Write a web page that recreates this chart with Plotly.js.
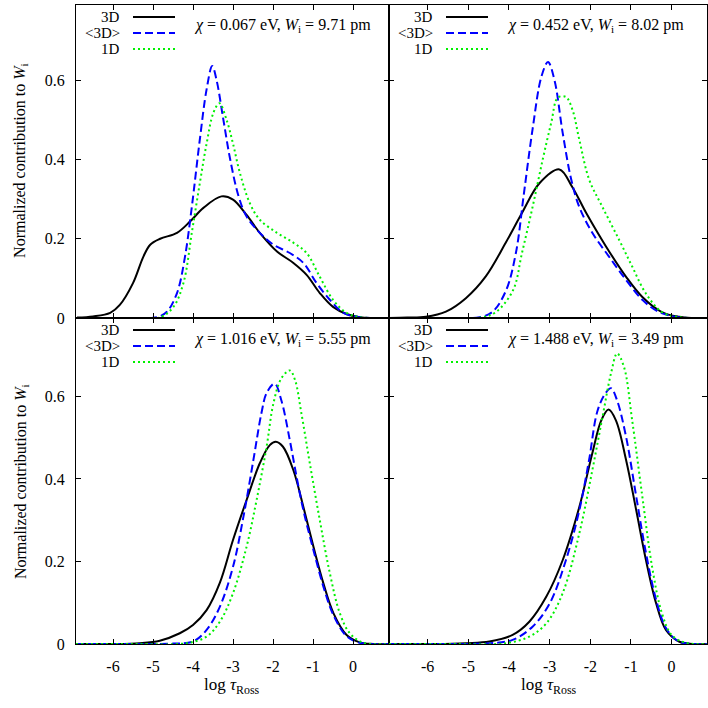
<!DOCTYPE html>
<html>
<head>
<meta charset="utf-8">
<script src="https://cdn.plot.ly/plotly-3.0.1.min.js"></script>
<style>
  html, body { margin: 0; padding: 0; background: #fff; }
  #plot { width: 708px; height: 708px; }
</style>
</head>
<body>
<div id="plot"></div>
<script>
// tick labels (plain hyphen minus, as in the original)
const xTickVals = [-6, -5, -4, -3, -2, -1, 0]
const xTickText = ['-6', '-5', '-4', '-3', '-2', '-1', '0']
const yTickVals = [0, 0.2, 0.4, 0.6]
const yTickText = ['0', '0.2', '0.4', '0.6']

const seriesNames = ['3D', '<3D>', '1D']
const panelLabels = [
  '<i>χ</i> = 0.067 eV, <i>W</i><sub>i</sub> = 9.71 pm',
  '<i>χ</i> = 0.452 eV, <i>W</i><sub>i</sub> = 8.02 pm',
  '<i>χ</i> = 1.016 eV, <i>W</i><sub>i</sub> = 5.55 pm',
  '<i>χ</i> = 1.488 eV, <i>W</i><sub>i</sub> = 3.49 pm'
]

// panel 1 (chi = 0.067 eV)
const p1x3D = [-6.9, -6.5, -6.07, -5.83, -5.5, -5.24, -5.07, -4.82, -4.4, -4.07, -3.74, -3.29, -3.0, -2.66, -2.33, -1.9, -1.49, -1.16, -0.83, -0.5, -0.16, 0.17, 0.5, 0.9]
const p1y3D = [0.001, 0.004, 0.013, 0.033, 0.088, 0.155, 0.185, 0.2, 0.215, 0.244, 0.278, 0.307, 0.299, 0.26, 0.215, 0.168, 0.139, 0.109, 0.063, 0.028, 0.01, 0.002, 0, 0]
const p1xAv = [-6.9, -5.5, -4.9, -4.66, -4.4, -4.2, -4.03, -3.83, -3.66, -3.52, -3.41, -3.24, -3.07, -2.86, -2.66, -2.33, -1.99, -1.58, -1.24, -0.91, -0.58, -0.24, 0.17, 0.9]
const p1yAv = [0, 0, 0.002, 0.015, 0.063, 0.155, 0.28, 0.45, 0.577, 0.636, 0.6, 0.5, 0.4, 0.307, 0.256, 0.215, 0.185, 0.164, 0.139, 0.088, 0.046, 0.013, 0.002, 0]
const p1x1D = [-6.9, -5.5, -4.82, -4.49, -4.24, -4.03, -3.83, -3.66, -3.49, -3.34, -3.16, -3.0, -2.83, -2.58, -2.33, -1.9, -1.49, -1.16, -0.83, -0.5, -0.16, 0.17, 0.9]
const p1y1D = [0, 0, 0.002, 0.028, 0.088, 0.215, 0.34, 0.44, 0.518, 0.542, 0.5, 0.44, 0.367, 0.29, 0.248, 0.215, 0.19, 0.164, 0.104, 0.046, 0.013, 0.002, 0]

// panel 2 (chi = 0.452 eV)
const p2x3D = [-6.95, -6.5, -6.04, -5.55, -5.06, -4.57, -4.08, -3.68, -3.25, -2.76, -2.44, -2.1, -1.61, -1.12, -0.72, -0.24, 0.18, 0.5, 0.88]
const p2y3D = [0, 0.001, 0.003, 0.016, 0.05, 0.105, 0.19, 0.265, 0.34, 0.375, 0.33, 0.265, 0.18, 0.104, 0.053, 0.015, 0.003, 0, 0]
const p2xAv = [-6.95, -5.5, -4.72, -4.4, -4.07, -3.83, -3.63, -3.42, -3.2, -3.04, -2.88, -2.68, -2.47, -2.27, -1.95, -1.54, -1.12, -0.72, -0.31, 0.18, 0.88]
const p2yAv = [0, 0, 0.002, 0.016, 0.07, 0.164, 0.316, 0.476, 0.61, 0.646, 0.6, 0.468, 0.35, 0.28, 0.215, 0.155, 0.096, 0.046, 0.015, 0.002, 0]
const p2x1D = [-6.95, -5.5, -4.65, -4.32, -3.9, -3.68, -3.42, -3.17, -2.96, -2.8, -2.6, -2.44, -2.27, -2.03, -1.7, -1.29, -0.97, -0.64, -0.24, 0.18, 0.88]
const p2y1D = [0, 0, 0.002, 0.015, 0.07, 0.164, 0.28, 0.4, 0.493, 0.556, 0.558, 0.526, 0.45, 0.35, 0.28, 0.197, 0.13, 0.063, 0.015, 0.002, 0]

// panel 3 (chi = 1.016 eV)
const p3x3D = [-6.93, -6.0, -5.33, -4.83, -4.33, -4.0, -3.66, -3.33, -3.0, -2.66, -2.33, -2.08, -1.93, -1.75, -1.49, -1.24, -0.99, -0.74, -0.49, -0.16, 0.17, 0.5, 0.9]
const p3y3D = [0, 0, 0.002, 0.008, 0.026, 0.046, 0.082, 0.148, 0.252, 0.349, 0.438, 0.482, 0.49, 0.478, 0.421, 0.332, 0.236, 0.147, 0.075, 0.022, 0.004, 0, 0]
const p3xAv = [-6.93, -5.5, -4.49, -4.0, -3.66, -3.33, -3.0, -2.74, -2.49, -2.29, -2.16, -1.96, -1.79, -1.58, -1.41, -1.24, -0.99, -0.74, -0.49, -0.16, 0.17, 0.9]
const p3yAv = [0, 0, 0.001, 0.006, 0.034, 0.09, 0.187, 0.308, 0.446, 0.559, 0.608, 0.631, 0.59, 0.494, 0.405, 0.324, 0.228, 0.139, 0.07, 0.019, 0.003, 0]
const p3x1D = [-6.93, -5.5, -4.16, -3.66, -3.33, -3.0, -2.66, -2.41, -2.16, -1.99, -1.79, -1.58, -1.45, -1.29, -1.08, -0.83, -0.58, -0.33, -0.08, 0.26, 0.9]
const p3y1D = [0, 0, 0.002, 0.018, 0.054, 0.123, 0.236, 0.349, 0.478, 0.583, 0.644, 0.663, 0.64, 0.559, 0.438, 0.3, 0.172, 0.075, 0.026, 0.003, 0]

// panel 4 (chi = 1.488 eV)
const p4x3D = [-6.95, -5.8, -5.06, -4.48, -3.91, -3.5, -3.08, -2.68, -2.27, -1.95, -1.73, -1.55, -1.37, -1.12, -0.87, -0.63, -0.38, -0.14, 0.18, 0.5, 0.88]
const p4y3D = [0, 0, 0.002, 0.006, 0.022, 0.054, 0.115, 0.203, 0.332, 0.462, 0.542, 0.568, 0.542, 0.446, 0.324, 0.203, 0.098, 0.034, 0.006, 0, 0]
const p4xAv = [-6.95, -5.5, -4.48, -3.91, -3.42, -3.0, -2.6, -2.27, -2.03, -1.82, -1.61, -1.49, -1.34, -1.12, -0.87, -0.63, -0.38, -0.14, 0.18, 0.88]
const p4yAv = [0, 0, 0.002, 0.01, 0.042, 0.098, 0.203, 0.324, 0.446, 0.566, 0.61, 0.62, 0.59, 0.502, 0.357, 0.22, 0.107, 0.039, 0.006, 0]
const p4x1D = [-6.95, -5.5, -4.07, -3.5, -3.08, -2.68, -2.27, -1.95, -1.7, -1.49, -1.34, -1.17, -0.97, -0.72, -0.48, -0.24, 0.0, 0.34, 0.88]
const p4y1D = [0, 0, 0.002, 0.018, 0.05, 0.123, 0.268, 0.421, 0.55, 0.656, 0.704, 0.671, 0.542, 0.357, 0.187, 0.075, 0.022, 0.003, 0]

const FONT = 'Liberation Serif'
const styles = [
  { color: '#000000', width: 2, dash: 'solid' },
  { color: '#0000ff', width: 2, dash: '8px,4px' },
  { color: '#00f000', width: 2, dash: '2px,3px' }
]

// plot area in pixels: l=76, r=1, t=5, b=64 -> 631 x 639
const plotW = 631
const plotH = 639
const leftW = 313
const bottomH = 326
const splitX = leftW / plotW
const splitY = bottomH / plotH

const panels = [
  { xa: 'x', ya: 'y', xs: [p1x3D, p1xAv, p1x1D], ys: [p1y3D, p1yAv, p1y1D], w: leftW, h: plotH - bottomH, range: [-6.925, 0.9] },
  { xa: 'x2', ya: 'y2', xs: [p2x3D, p2xAv, p2x1D], ys: [p2y3D, p2yAv, p2y1D], w: plotW - leftW, h: plotH - bottomH, range: [-6.95, 0.87] },
  { xa: 'x3', ya: 'y3', xs: [p3x3D, p3xAv, p3x1D], ys: [p3y3D, p3yAv, p3y1D], w: leftW, h: bottomH, range: [-6.925, 0.9] },
  { xa: 'x4', ya: 'y4', xs: [p4x3D, p4xAv, p4x1D], ys: [p4y3D, p4yAv, p4y1D], w: plotW - leftW, h: bottomH, range: [-6.95, 0.87] }
]

const traces = []
const annotations = []
const shapes = []

panels.forEach((p, i) => {
  for (let k = 0; k < 3; k++) {
    traces.push({
      type: 'scatter',
      mode: 'lines',
      x: p.xs[k],
      y: p.ys[k],
      xaxis: p.xa,
      yaxis: p.ya,
      name: seriesNames[k],
      showlegend: false,
      line: { color: styles[k].color, width: styles[k].width, dash: styles[k].dash, shape: 'spline', smoothing: 1 }
    })
    // hand-made key, text left of the line sample like gnuplot
    const yk = 1 - [12, 28, 44][k] / p.h
    annotations.push({
      xref: p.xa + ' domain', yref: p.ya + ' domain',
      x: 46 / p.w, y: yk, xanchor: 'right', yanchor: 'middle',
      text: seriesNames[k].replace('<', '&lt;').replace('>', '&gt;'),
      showarrow: false, font: { family: FONT, size: 15, color: '#000' }
    })
    shapes.push({
      type: 'line', xref: p.xa + ' domain', yref: p.ya + ' domain',
      x0: 57 / p.w, x1: 99 / p.w, y0: yk, y1: yk,
      line: { color: styles[k].color, width: styles[k].width, dash: styles[k].dash }
    })
  }
  annotations.push({
    xref: p.xa + ' domain', yref: p.ya + ' domain',
    x: 116 / p.w, y: 1 - 21 / p.h, xanchor: 'left', yanchor: 'middle',
    text: panelLabels[i], showarrow: false,
    font: { family: FONT, size: 16, color: '#000' }
  })
})

// axis titles
const yTitle = 'Normalized contribution to <i>W</i><sub>i</sub>'
const xTitle = 'log <i>τ</i><sub>Ross</sub>'
const titleFont = { family: FONT, size: 16, color: '#000' }
annotations.push(
  { xref: 'paper', yref: 'paper', x: -55 / plotW, y: 0.756, xanchor: 'center', yanchor: 'middle', textangle: -90, text: yTitle, showarrow: false, font: titleFont },
  { xref: 'paper', yref: 'paper', x: -55 / plotW, y: 0.2535, xanchor: 'center', yanchor: 'middle', textangle: -90, text: yTitle, showarrow: false, font: titleFont },
  { xref: 'paper', yref: 'paper', x: 0.247, y: -42 / plotH, xanchor: 'center', yanchor: 'middle', text: xTitle, showarrow: false, font: { family: FONT, size: 17, color: '#000' } },
  { xref: 'paper', yref: 'paper', x: 0.75, y: -42 / plotH, xanchor: 'center', yanchor: 'middle', text: xTitle, showarrow: false, font: { family: FONT, size: 17, color: '#000' } }
)

function xAxis (domain, anchor, range, labels) {
  return {
    domain: domain, anchor: anchor, range: range,
    tickmode: 'array', tickvals: xTickVals, ticktext: xTickText,
    showticklabels: labels, ticks: 'inside', ticklen: 5, tickcolor: '#000',
    ticklabelstandoff: 8,
    showline: true, linecolor: '#000', linewidth: 1, mirror: 'ticks',
    showgrid: false, zeroline: false,
    tickfont: { family: FONT, size: 16, color: '#000' }
  }
}

function yAxis (domain, anchor, labels) {
  return {
    domain: domain, anchor: anchor, range: [0, 0.79],
    tickmode: 'array', tickvals: yTickVals, ticktext: yTickText,
    showticklabels: labels, ticks: 'inside', ticklen: 5, tickcolor: '#000',
    ticklabelstandoff: 7,
    showline: true, linecolor: '#000', linewidth: 1, mirror: 'ticks',
    showgrid: false, zeroline: false,
    tickfont: { family: FONT, size: 16, color: '#000' }
  }
}

const layout = {
  width: 708,
  height: 708,
  margin: { l: 76, r: 1, t: 5, b: 64 },
  paper_bgcolor: '#fff',
  plot_bgcolor: '#fff',
  showlegend: false,
  font: { family: FONT, color: '#000' },
  xaxis: xAxis([0, splitX], 'y', panels[0].range, false),
  yaxis: yAxis([splitY, 1], 'x', true),
  xaxis2: xAxis([splitX, 1], 'y2', panels[1].range, false),
  yaxis2: yAxis([splitY, 1], 'x2', false),
  xaxis3: xAxis([0, splitX], 'y3', panels[2].range, true),
  yaxis3: yAxis([0, splitY], 'x3', true),
  xaxis4: xAxis([splitX, 1], 'y4', panels[3].range, true),
  yaxis4: yAxis([0, splitY], 'x4', false),
  annotations: annotations,
  shapes: shapes
}

Plotly.newPlot('plot', traces, layout, { displayModeBar: false })
</script>
</body>
</html>
